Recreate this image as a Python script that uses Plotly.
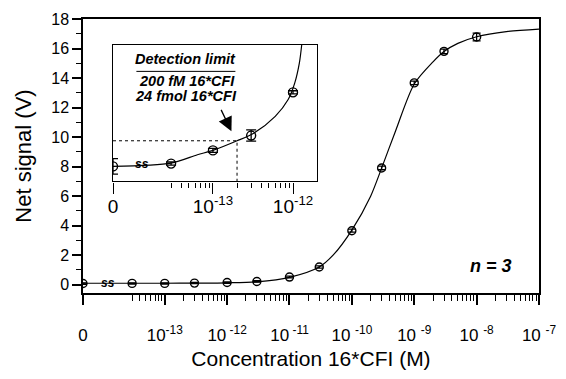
import math
import plotly.graph_objects as go

# ---------------- data ----------------
conc = [0, 3e-14, 1e-13, 3e-13, 1e-12, 3e-12, 1e-11, 3e-11, 1e-10, 3e-10, 1e-9, 3e-9, 1e-8]
signal = [0.08, 0.09, 0.09, 0.11, 0.15, 0.22, 0.52, 1.20, 3.66, 7.91, 13.67, 15.81, 16.78]
signal_err = [0.05, 0.04, 0.04, 0.04, 0.05, 0.05, 0.06, 0.08, 0.10, 0.12, 0.12, 0.15, 0.26]

curve_conc = [0, 3e-14, 1e-13, 3e-13, 1e-12, 3e-12, 1e-11, 3e-11, 5e-11, 1e-10, 2e-10,
              3e-10, 5e-10, 1e-9, 2e-9, 3e-9, 5e-9, 1e-8, 3e-8, 1e-7]
curve_signal = [0.10, 0.10, 0.10, 0.11, 0.13, 0.20, 0.50, 1.20, 2.00, 3.70, 6.00,
                7.90, 10.40, 13.60, 15.10, 15.80, 16.35, 16.80, 17.15, 17.32]

inset_conc = [0, 3e-14, 1e-13, 3e-13, 1e-12]
inset_signal = [0.120, 0.127, 0.160, 0.197, 0.305]
inset_err = [0.0195, 0.004, 0.005, 0.014, 0.004]

inset_curve_conc = [0, 3e-14, 6.4e-14, 1e-13, 2e-13, 3.27e-13, 6e-13, 8.7e-13, 1.05e-12, 1.2e-12, 1.285e-12]
inset_curve_signal = [0.120, 0.128, 0.149, 0.160, 0.184, 0.2035, 0.245, 0.287, 0.328, 0.378, 0.424]

detection_conc = 2e-13
detection_signal = 0.184

main_tickvals = ["zero", 1e-13, 1e-12, 1e-11, 1e-10, 1e-9, 1e-8, 1e-7]
main_ticktext = ["0", "10<sup>-13</sup>", "10<sup>\u00a0-12</sup>", "10<sup>\u00a0-11</sup>",
                 "10\u00a0<sup>-10</sup>", "10\u00a0<sup>-9</sup>", "10\u00a0<sup>-8</sup>", "10\u00a0<sup>-7</sup>"]
inset_tickvals = ["zero", 1e-13, 1e-12]
inset_ticktext = ["0", "10<sup>-13</sup>", "10<sup>-12</sup>"]

y_tickvals = [0, 2, 4, 6, 8, 10, 12, 14, 16, 18]

# ---------------- layout constants ----------------
MAIN_ZERO = 10 ** -14.31      # where the "0" concentration is drawn on the broken log axis
INSET_ZERO = 10 ** -14.248
MAIN_BREAK = 1.23e-14
INSET_BREAK = 1.3e-14
FONT = "Liberation Sans, Arial, sans-serif"


def place(values, zero):
    return [zero if (v == 0 or v == "zero") else v for v in values]


main_minor = [k * 1e-14 for k in range(3, 10)] + [k * 10.0 ** d for d in range(-13, -7) for k in range(2, 10)]
inset_minor = [k * 1e-14 for k in range(3, 10)] + [k * 1e-13 for k in range(2, 10)] + [2e-12]

fig = go.Figure()

# main fitted curve
fig.add_trace(go.Scatter(
    x=place(curve_conc, MAIN_ZERO), y=curve_signal, mode="lines",
    line=dict(color="black", width=1.2, shape="spline", smoothing=0.8), hoverinfo="skip",
    xaxis="x", yaxis="y"))
# main data
fig.add_trace(go.Scatter(
    x=place(conc, MAIN_ZERO), y=signal, mode="markers",
    marker=dict(symbol="circle-open", size=8, color="black", line=dict(width=1.4)),
    error_y=dict(type="data", array=signal_err, color="black", thickness=1.3, width=4),
    xaxis="x", yaxis="y"))

# inset dotted detection-limit guide
fig.add_trace(go.Scatter(
    x=[INSET_ZERO, detection_conc, detection_conc],
    y=[detection_signal, detection_signal, 0.0825],
    mode="lines", line=dict(color="black", width=1, dash="dot"),
    xaxis="x2", yaxis="y2"))
# inset curve
fig.add_trace(go.Scatter(
    x=place(inset_curve_conc, INSET_ZERO), y=inset_curve_signal, mode="lines",
    line=dict(color="black", width=1.2, shape="spline", smoothing=0.8),
    xaxis="x2", yaxis="y2"))
# inset data
fig.add_trace(go.Scatter(
    x=place(inset_conc, INSET_ZERO), y=inset_signal, mode="markers",
    marker=dict(symbol="circle-open", size=9, color="black", line=dict(width=1.4)),
    error_y=dict(type="data", array=inset_err, color="black", thickness=1.3, width=5),
    xaxis="x2", yaxis="y2"))

axis_common = dict(showline=True, linecolor="black", linewidth=1.5, mirror=True, automargin=False,
                   showgrid=False, zeroline=False, ticks="outside", tickcolor="black")

fig.update_layout(
    width=566, height=379,
    margin=dict(l=83, r=27, t=19, b=86, autoexpand=False),
    paper_bgcolor="white", plot_bgcolor="white",
    showlegend=False,
    font=dict(family=FONT, color="black"),
    xaxis=dict(type="log", range=[math.log10(MAIN_ZERO), -7],
               tickvals=place(main_tickvals, MAIN_ZERO), ticktext=main_ticktext,
               ticklen=10, tickwidth=1.5, ticklabelstandoff=16,
               tickfont=dict(size=17),
               minor=dict(tickvals=main_minor, ticklen=6, tickwidth=1.2, ticks="outside", tickcolor="black"),
               title=dict(text="Concentration 16*CFI (M)", font=dict(size=21), standoff=7),
               **axis_common),
    yaxis=dict(range=[-0.56, 18], tickvals=y_tickvals, ticklen=9, tickwidth=1.5,
               tickfont=dict(size=16),
               minor=dict(dtick=1, ticklen=5, tickwidth=1.2, ticks="outside", tickcolor="black"),
               title=dict(text="Net signal (V)", font=dict(size=22), standoff=14),
               **axis_common),
    xaxis2=dict(type="log", range=[math.log10(INSET_ZERO), -11.703], domain=[0.0658, 0.5127],
                anchor="y2", tickvals=place(inset_tickvals, INSET_ZERO), ticktext=inset_ticktext,
                ticklen=11, tickwidth=1.2, ticklabelstandoff=-3, tickfont=dict(size=19),
                minor=dict(tickvals=inset_minor, ticklen=5, tickwidth=1.1, ticks="outside", tickcolor="black"),
                showline=True, linecolor="black", linewidth=1.3, mirror=True, automargin=False,
                showgrid=False, zeroline=False, ticks="outside", tickcolor="black"),
    yaxis2=dict(range=[0.0825, 0.424], domain=[0.4073, 0.9062], anchor="x2",
                showticklabels=False, ticks="", automargin=False,
                showline=True, linecolor="black", linewidth=1.3, mirror=True,
                showgrid=False, zeroline=False),
)

# axis-break marks on the curves
fig.add_annotation(x=math.log10(MAIN_BREAK), y=0.10, xref="x", yref="y", text="<b><i>ss</i></b>",
                   showarrow=False, font=dict(size=12, family=FONT))
fig.add_annotation(x=math.log10(INSET_BREAK), y=0.127, xref="x2", yref="y2", text="<b><i>ss</i></b>",
                   showarrow=False, font=dict(size=12, family=FONT))

# inset texts
bi = dict(size=14.5, family=FONT, color="black")
center = dict(xanchor="center", yanchor="middle", showarrow=False, xref="paper", yref="paper")
fig.add_annotation(x=0.2248, y=0.854, text="<b><i>Detection limit</i></b>", font=bi, **center)
fig.add_shape(type="line", x0=0.1171, x1=0.3342, y0=0.8088, y1=0.8088, xref="paper", yref="paper",
              line=dict(color="black", width=1))
fig.add_annotation(x=0.2285, y=0.7745, text="<b><i>200 fM 16*CFI</i></b>", font=bi, **center)
fig.add_annotation(x=0.2252, y=0.7190, text="<b><i>24 fmol 16*CFI</i></b>", font=bi, **center)
# arrow to the detection limit
fig.add_annotation(x=-12.769, y=0.2075, xref="x2", yref="y2", text="", showarrow=True,
                   ax=-11, ay=-23, arrowhead=2, arrowsize=2.2, arrowwidth=1.3, arrowcolor="black")

fig.add_annotation(x=0.8956, y=0.0971, text="<b><i>n = 3</i></b>",
                   font=dict(size=18, family=FONT, color="black"), **center)

fig.write_html("out.html", config={"displayModeBar": False},
               post_script="document.body.style.margin='0';")
